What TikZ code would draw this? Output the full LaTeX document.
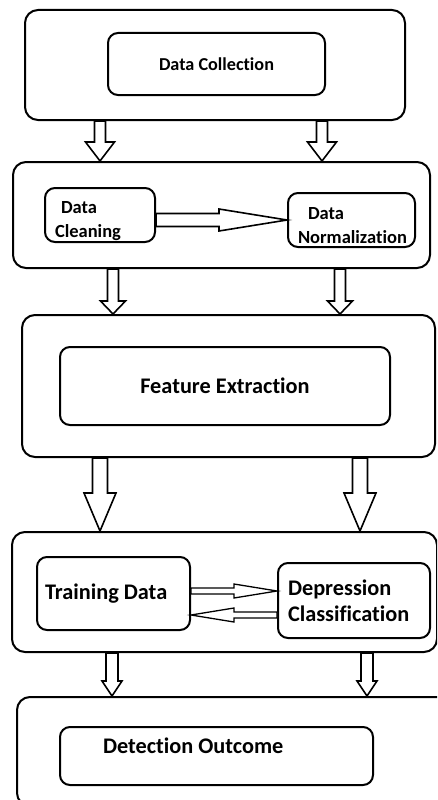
\documentclass[tikz,border=0pt]{standalone}
\usepackage{fontspec}
\setmainfont{Carlito}[Ligatures=NoCommon]
\usetikzlibrary{calc}
\begin{document}
\begin{tikzpicture}[x=1pt, y=-1pt]
    \tikzset{
        outer/.style={draw, line width=2pt, rounded corners=13pt, inner sep=0pt},
        inner/.style={draw, line width=2pt, rounded corners=10pt, inner sep=0pt},
        mid/.style={font=\bfseries\fontsize{18.2}{21}\selectfont},
        small/.style={font=\bfseries\fontsize{18.5}{24}\selectfont, align=flush left},
        big/.style={font=\bfseries\fontsize{22.3}{26}\selectfont, align=flush left},
        fatarr/.style args={#1/#2/#3}{draw, fill=white, line width=1.6pt, to path={
            ($(\tikztostart)!#1!90:(\tikztotarget)$)
            -- ($(\tikztotarget)!#3!(\tikztostart)!#1!90:(\tikztotarget)$)
            -- ($(\tikztotarget)!#3!(\tikztostart)!#2!90:(\tikztotarget)$)
            -- (\tikztotarget)
            -- ($(\tikztotarget)!#3!(\tikztostart)!#2!-90:(\tikztotarget)$)
            -- ($(\tikztotarget)!#3!(\tikztostart)!#1!-90:(\tikztotarget)$)
            -- ($(\tikztostart)!#1!-90:(\tikztotarget)$) -- cycle}}
        }
    \clip (0,0) rectangle (437,800);

    %outer boxes
    \node (b1) [outer, minimum width=380pt, minimum height=110pt] at (215,65) {};
    \node (b2) [outer, minimum width=417pt, minimum height=106pt] at (221.5,215) {};
    \node (b3) [outer, minimum width=413pt, minimum height=142pt] at (228.5,386) {};
    \node (b4) [outer, minimum width=425pt, minimum height=120pt] at (224.5,592) {};
    \node (b5) [outer, minimum width=433pt, minimum height=109pt] at (233.5,751.5) {};

    %steps
    \node (collect) [inner, mid, minimum width=217pt, minimum height=62pt] at (216.5,64) {Data Collection};
    \node (clean) [inner, small, text width=90pt, inner xsep=10pt, minimum height=54pt] at (100,215) {\rule{0pt}{24pt}\hspace*{6pt}Data\\Cleaning};
    \node (norm) [inner, small, text width=107pt, inner xsep=10pt, minimum height=54pt] at (351.5,220) {\rule{0pt}{24pt}\hspace*{10pt}Data\\Normalization};
    \node (feat) [inner, big, align=center, minimum width=330pt, minimum height=78pt] at (225,386) {Feature Extraction};
    \node (train) [inner, big, text width=137pt, inner xsep=8pt, minimum height=73pt] at (113.5,593.5) {Training Data};
    \node (dep) [inner, big, text width=132pt, inner xsep=10pt, minimum height=75pt] at (354,600.5) {Depression\\Classification};
    \node (detect) [inner, big, text width=227pt, inner xsep=43pt, text height=26pt, text depth=32pt] at (216.5,756) {Detection Outcome};

    %flow between stages
    \draw[fatarr=5.5pt/14.5pt/19pt] (b1.south -| 100,0) to (b2.north -| 100,0);
    \draw[fatarr=5.5pt/14.5pt/19pt] (b1.south -| 322,0) to (b2.north -| 322,0);
    \draw[fatarr=5.5pt/12.5pt/13pt] (b2.south -| 113,0) to (b3.north -| 113,0);
    \draw[fatarr=5.5pt/12.5pt/13pt] (b2.south -| 340,0) to (b3.north -| 340,0);
    \draw[fatarr=7.5pt/16pt/38pt] (b3.south -| 100,0) to (b4.north -| 100,0);
    \draw[fatarr=7.5pt/16pt/38pt] (b3.south -| 360,0) to (b4.north -| 360,0);
    \draw[fatarr=6pt/10pt/15pt] (b4.south -| 112,0) to (b5.north -| 112,0);
    \draw[fatarr=6pt/10pt/15pt] (b4.south -| 367,0) to (b5.north -| 367,0);

    %inside stages
    \draw[fatarr=6.5pt/11pt/68pt] (clean.east |- norm.west) to (norm.west);
    \coordinate (up) at ([yshift=2.5pt]train.east);
    \coordinate (dn) at ([yshift=-21.5pt]train.east);
    \draw[fatarr=3pt/7pt/43pt, line width=1.3pt] (up) to (up -| dep.west);
    \draw[fatarr=3pt/7pt/43pt, line width=1.3pt] (dn -| dep.west) to (dn);
\end{tikzpicture}
\end{document}
